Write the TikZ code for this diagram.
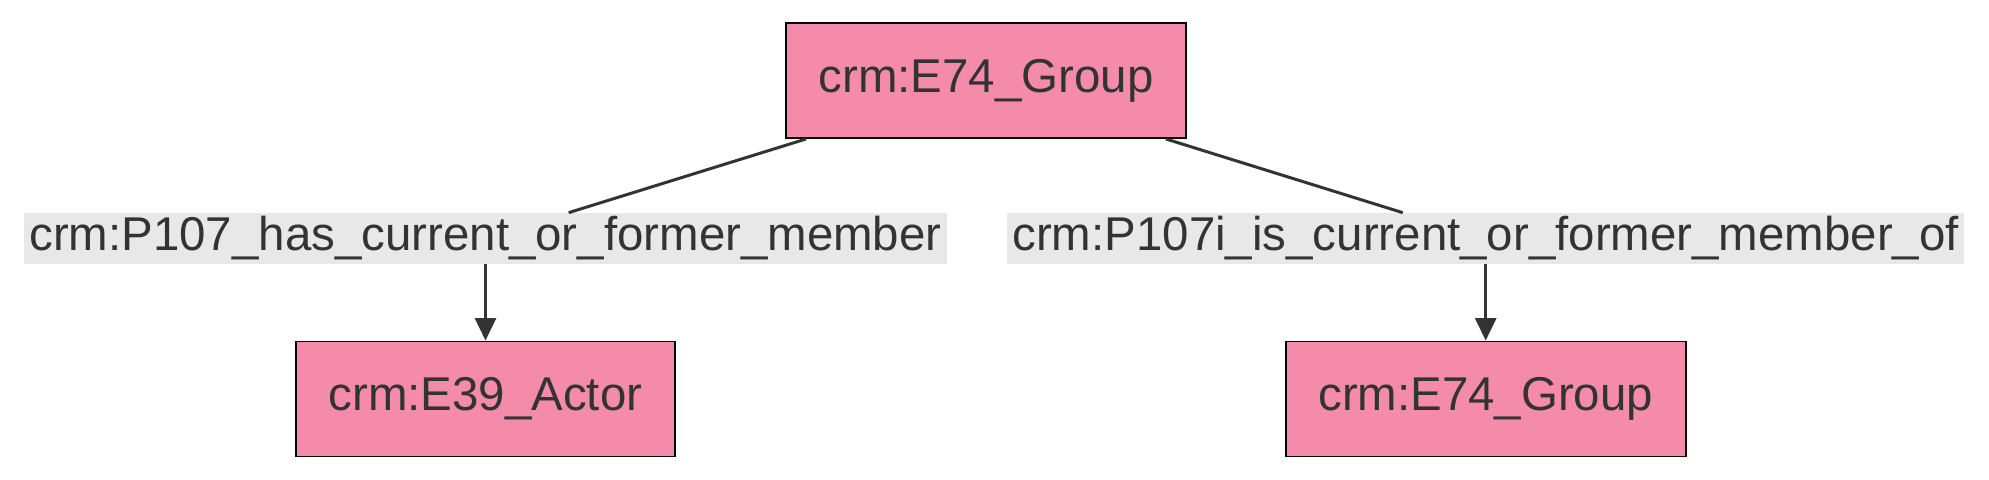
\documentclass[tikz,border=0pt]{standalone}
\usepackage{fontspec}
\setmainfont{Liberation Sans}
\usepackage{tikz}
\usetikzlibrary{arrows.meta,positioning,calc}
\definecolor{crmPink}{HTML}{F58BAA}
\definecolor{crmText}{HTML}{333333}
\definecolor{crmLbl}{HTML}{E8E8E8}
\tikzset{
  crmClass/.style={draw=black, fill=crmPink, line width=1.1pt,
    minimum height=2.3cm, inner xsep=0.65cm, text=crmText,
    font=\fontsize{27}{32}\selectfont},
  crmProp/.style={fill=crmLbl, minimum height=1.02cm, inner xsep=0.1cm,
    inner ysep=0pt, text=crmText, font=\fontsize{27}{32}\selectfont},
  %% Connectors
  crmEdge/.style={draw=crmText, line width=1.7pt},
  crmArrow/.style={crmEdge, -{Triangle[length=0.45cm, width=0.42cm]}},
}

\begin{document}
\begin{tikzpicture}[x=0.02cm, y=-0.02cm]
\useasboundingbox (0,0) rectangle (1989,480);

\node[crmClass] (grpTop)   at ( 986.0, 80.5) {crm:E74\_Group};
\node[crmProp]  (lblHas)   at ( 485.5,238.5) {crm:P107\_has\_current\_or\_former\_member};
\node[crmProp]  (lblIs)    at (1485.7,238.5) {crm:P107i\_is\_current\_or\_former\_member\_of};
\node[crmClass] (actor)    at ( 485.5,399.0) {crm:E39\_Actor};
\node[crmClass] (grpBot)   at (1485.7,399.0) {crm:E74\_Group};

\draw[crmEdge]  ($(grpTop.south west)+(21,0)$) -- (lblHas);
\draw[crmArrow] (lblHas) -- (actor);
\draw[crmEdge]  ($(grpTop.south east)+(-21,0)$) -- (lblIs);
\draw[crmArrow] (lblIs) -- (grpBot);
\end{tikzpicture}
\end{document}
